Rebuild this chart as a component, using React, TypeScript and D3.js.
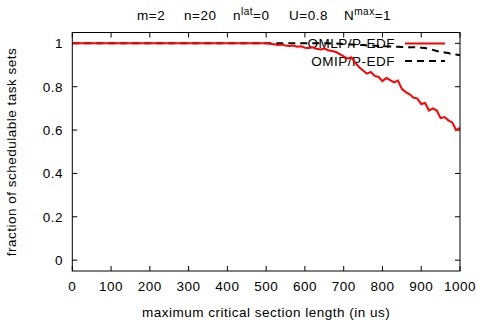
import React from "react";
import * as d3 from "d3";

const xTicks = [0, 100, 200, 300, 400, 500, 600, 700, 800, 900, 1000];
const yTicks = [0, 0.2, 0.4, 0.6, 0.8, 1];

// x = 0..1000 step 10
const xs = d3.range(0, 1001, 10);

const omlpTail = [
  1.0, 0.998, 0.996, 0.992, 0.994, 0.99, 0.988, 0.99, 0.984, 0.986,
  0.98, 0.978, 0.982, 0.975, 0.972, 0.976, 0.968, 0.965, 0.96, 0.95,
  0.94, 0.93, 0.935, 0.91, 0.89, 0.875, 0.86, 0.868, 0.85, 0.845,
  0.826, 0.84, 0.83, 0.82, 0.828, 0.79, 0.775, 0.765, 0.75, 0.745,
  0.72, 0.725, 0.69, 0.7, 0.69, 0.655, 0.66, 0.645, 0.635, 0.6, 0.61,
];
const omlpValues = [...Array(50).fill(1), ...omlpTail];

const omipTail = [
  1, 1, 1, 1, 1, 1, 1, 0.999, 0.999, 0.998,
  0.997, 0.996, 0.995, 0.994, 0.993, 0.992, 0.99, 0.99, 0.989, 0.988,
  0.987, 0.986, 0.985, 0.985, 0.984, 0.983, 0.983, 0.982, 0.982, 0.981,
  0.98, 0.978, 0.975, 0.97, 0.965, 0.96, 0.958, 0.955, 0.95, 0.948, 0.945,
];
const omipValues = [...Array(60).fill(1), ...omipTail];

const W = 477;
const H = 324;
const left = 72.3;
const right = 460;
const top = 32.5;
const bottom = 271;

export default function App() {
  const x = d3.scaleLinear().domain([0, 1000]).range([left, right]);
  const y = d3.scaleLinear().domain([-0.05, 1.05]).range([bottom, top]);
  const line = d3
    .line<number>()
    .x((_, i) => x(xs[i]))
    .y((d) => y(d));
  const font = "'Liberation Sans', Arial, Helvetica, sans-serif";
  const fs = 13.5;
  const ls = 0.5;
  const tl = 5;
  const cx = (left + right) / 2;

  return (
    <svg
      width={W}
      height={H}
      style={{ position: "absolute", left: 0, top: 0 }}
      fontFamily={font}
      fontSize={fs}
      letterSpacing={ls}
    >
      <rect width={W} height={H} fill="white" />
      {/* title */}
      <text y={20} fill="#000">
        <tspan x={137}>m=2</tspan>
        <tspan x={184}>n=20</tspan>
        <tspan x={233}>n</tspan>
        <tspan dy={-5.5} fontSize={10}>lat</tspan>
        <tspan dy={5.5}>=0</tspan>
        <tspan x={289}>U=0.8</tspan>
        <tspan x={344}>N</tspan>
        <tspan dy={-5.5} fontSize={10}>max</tspan>
        <tspan dy={5.5}>=1</tspan>
      </text>

      {/* ticks */}
      {xTicks.map((t) => (
        <g key={"x" + t}>
          <line x1={x(t)} x2={x(t)} y1={bottom} y2={bottom - tl} stroke="#000" />
          <line x1={x(t)} x2={x(t)} y1={top} y2={top + tl} stroke="#000" />
          <text x={x(t)} y={291} textAnchor="middle">
            {t}
          </text>
        </g>
      ))}
      {yTicks.map((t) => (
        <g key={"y" + t}>
          <line x1={left} x2={left + tl} y1={y(t)} y2={y(t)} stroke="#000" />
          <line x1={right} x2={right - tl} y1={y(t)} y2={y(t)} stroke="#000" />
          <text x={63} y={y(t) + 5} textAnchor="end">
            {t}
          </text>
        </g>
      ))}

      {/* axis labels */}
      <text x={cx} y={317} textAnchor="middle">
        maximum critical section length (in us)
      </text>
      <text
        transform={`translate(16,${152}) rotate(-90)`}
        textAnchor="middle"
      >
        fraction of schedulable task sets
      </text>

      {/* legend */}
      <text x={395} y={48} textAnchor="end">
        OMLP/P-EDF
      </text>
      <line x1={405} x2={445} y1={43.5} y2={43.5} stroke="#ff0000" strokeWidth={2} />
      <text x={395} y={65.5} textAnchor="end">
        OMIP/P-EDF
      </text>
      <line
        x1={405}
        x2={445}
        y1={61}
        y2={61}
        stroke="#000"
        strokeWidth={2}
        strokeDasharray="7,5"
      />

      {/* series */}
      <path
        d={line(omipValues) || ""}
        fill="none"
        stroke="#000"
        strokeWidth={2}
        strokeDasharray="7,5"
      />
      <path d={line(omlpValues) || ""} fill="none" stroke="#ff0000" strokeWidth={2} />

      {/* frame */}
      <rect
        x={left}
        y={top}
        width={right - left}
        height={bottom - top}
        fill="none"
        stroke="#000"
        strokeWidth={1}
      />
    </svg>
  );
}
